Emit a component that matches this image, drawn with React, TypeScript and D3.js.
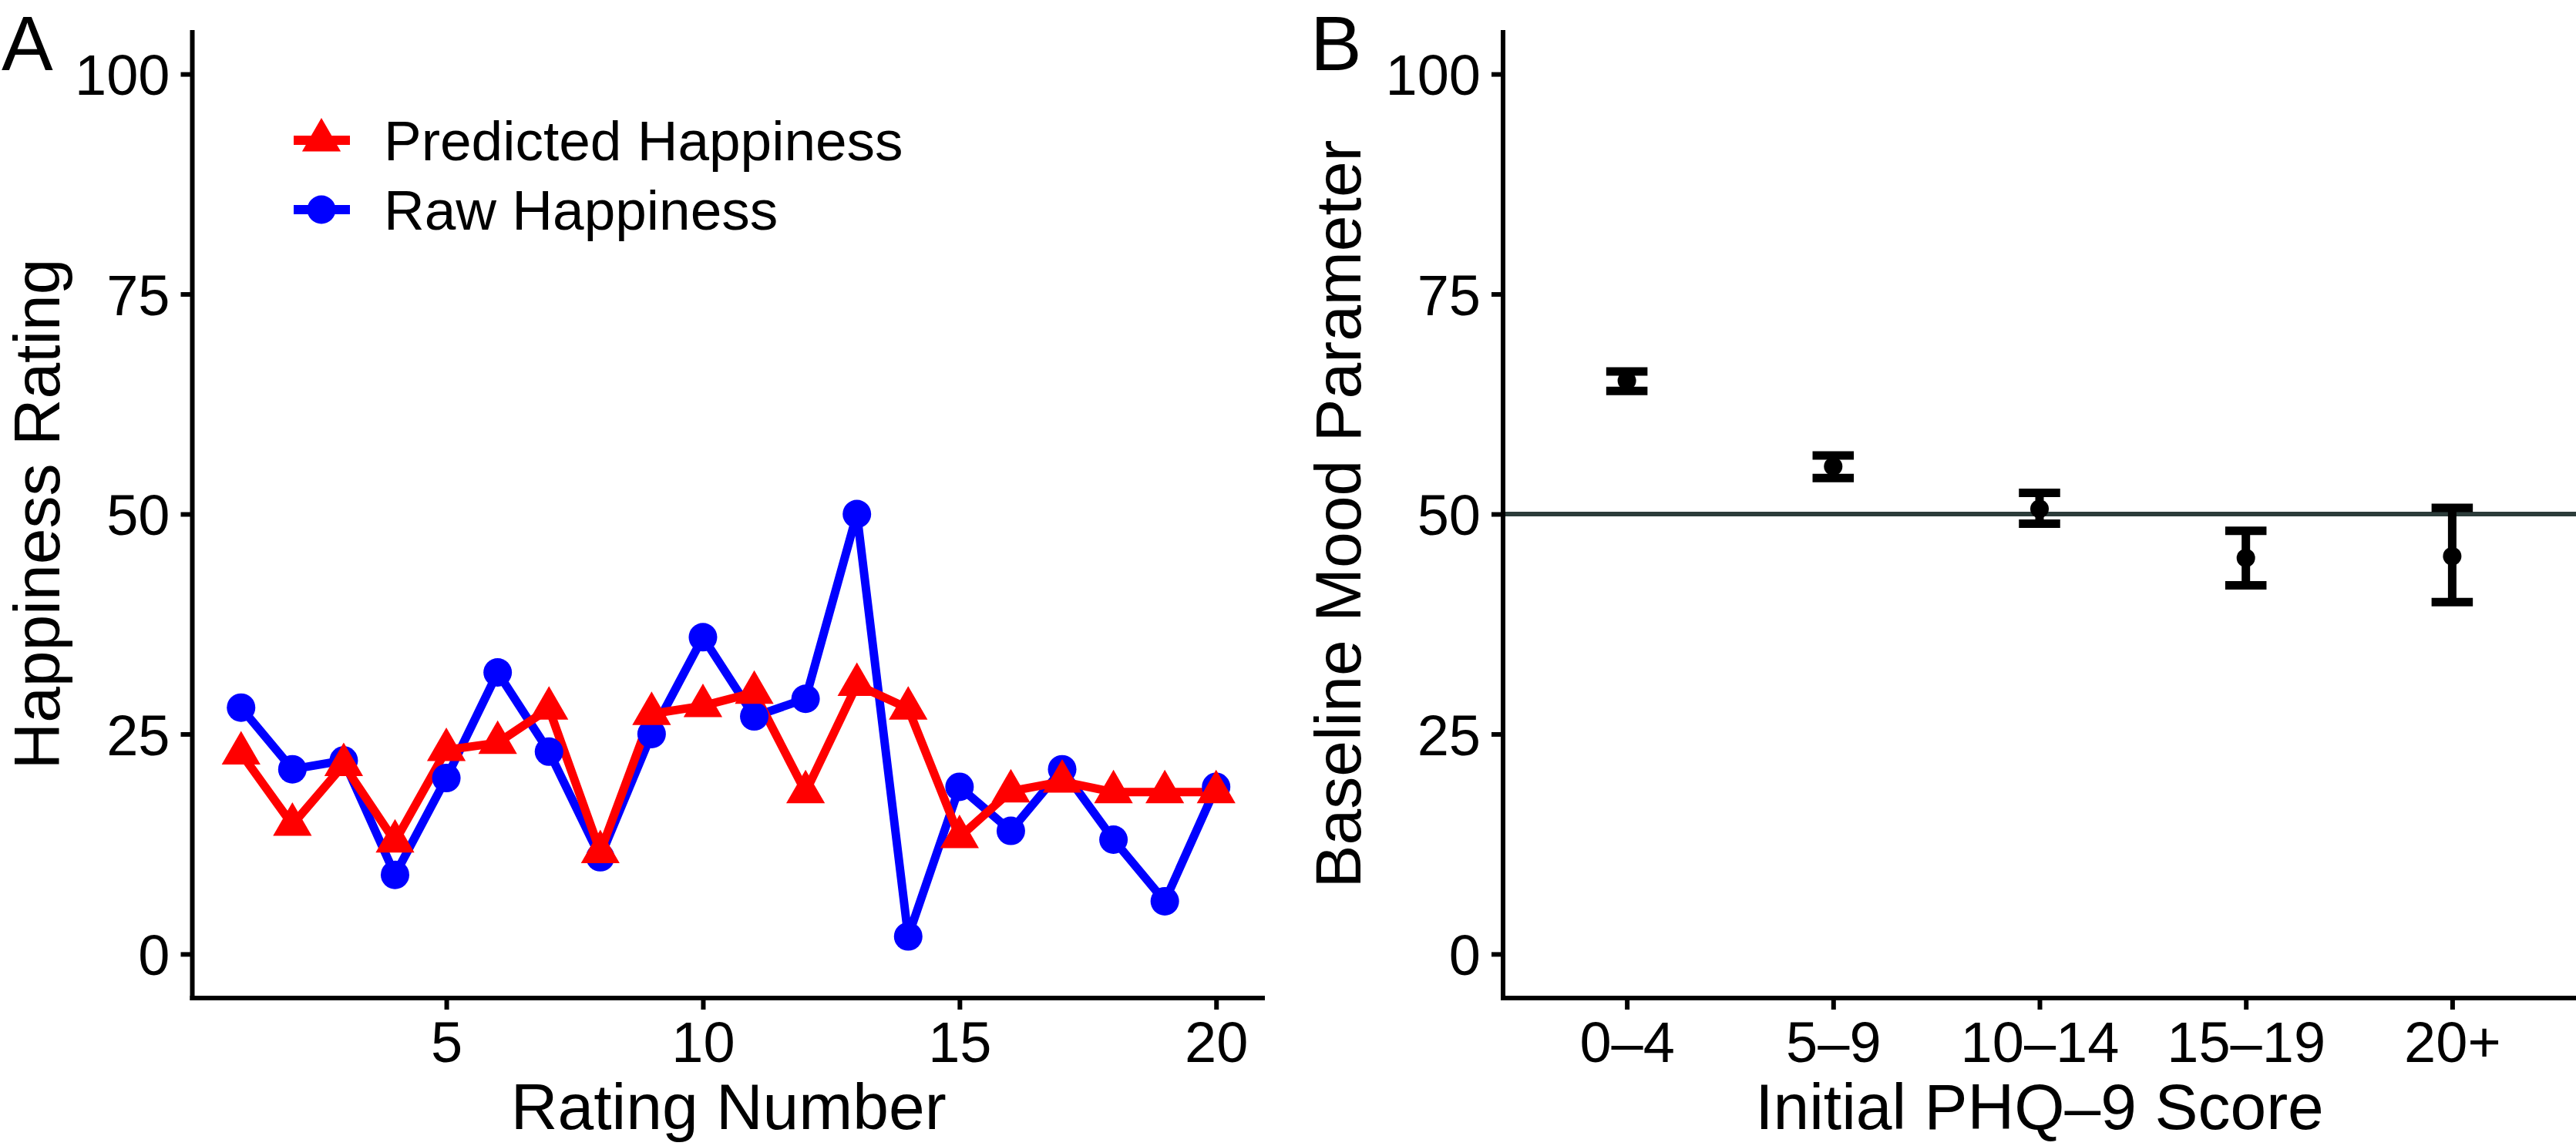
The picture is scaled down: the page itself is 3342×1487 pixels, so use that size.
import React, { useRef, useEffect } from "react";
import * as d3 from "d3";

// panel A data
const ratingNumber = [1, 2, 3, 4, 5, 6, 7, 8, 9, 10, 11, 12, 13, 14, 15, 16, 17, 18, 19, 20];
const predictedHappiness = [22.8, 14.7, 21.5, 12.8, 23.2, 24.0, 27.9, 11.6, 27.3, 28.2, 29.7, 18.4, 30.6, 27.9, 13.3, 18.5, 19.6, 18.4, 18.4, 18.4];
const rawHappiness = [28, 21, 22, 9, 20, 32, 23, 11, 25, 36, 27, 29, 50, 2, 19, 14, 21, 13, 6, 19];
const xTicksA = [5, 10, 15, 20];
const yTicks = [0, 25, 50, 75, 100];

// panel B data
const phqGroups = ["0–4", "5–9", "10–14", "15–19", "20+"];
const moodMean = [65.15, 55.4, 50.6, 45.0, 45.2];
const moodLower = [64.0, 54.1, 48.9, 41.9, 40.0];
const moodUpper = [66.2, 56.65, 52.4, 48.1, 50.7];

const W = 3342;
const H = 1487;
const FONT = "'Liberation Sans', Arial, Helvetica, sans-serif";
const RED = "#ff0000";
const BLUE = "#0000ff";

export default function App() {
  const svgRef = useRef<SVGSVGElement | null>(null);

  useEffect(() => {
    const svg = d3.select(svgRef.current);
    svg.selectAll("*").remove();
    svg.attr("width", W).attr("height", H);

    const top = 39;
    const bottom = 1295;
    const y = d3.scaleLinear().domain([-5, 105]).range([bottom, top]);

    // triangle like R's pch 17, centred on the centroid
    const triR = 29;
    const tri = (cx: number, cy: number) =>
      `M${cx},${cy - triR}L${cx + triR * 0.866},${cy + triR / 2}L${cx - triR * 0.866},${cy + triR / 2}Z`;

    const styleAxis = (g: any, fs: number) => {
      g.selectAll("path.domain").attr("stroke", "#000").attr("stroke-width", 6);
      g.selectAll(".tick line").attr("stroke", "#000").attr("stroke-width", 6);
      g.selectAll(".tick text")
        .attr("fill", "#000")
        .style("font-family", FONT)
        .style("font-size", fs + "px");
    };

    // ---------- panel A ----------
    const leftA = 249.5;
    const rightA = 1641;
    const xA = d3.scaleLinear().domain([0.05, 20.95]).range([leftA, rightA]);
    const gA = svg.append("g");

    const yAxA = gA
      .append("g")
      .attr("transform", `translate(${leftA},0)`)
      .call(d3.axisLeft(y).tickValues(yTicks).tickSize(15).tickSizeOuter(0).tickPadding(14));
    styleAxis(yAxA, 74);
    yAxA.selectAll(".tick text").attr("dy", "0.36em");
    yAxA.select("path.domain").attr("d", `M0,${bottom + 3}V${top}`);

    const xAxA = gA
      .append("g")
      .attr("transform", `translate(0,${bottom})`)
      .call(d3.axisBottom(xA).tickValues(xTicksA).tickSize(15).tickSizeOuter(0).tickPadding(15));
    styleAxis(xAxA, 74);
    xAxA.select("path.domain").attr("d", `M${leftA - 3},0H${rightA}`);

    const line = d3
      .line<number>()
      .x((_, i) => xA(ratingNumber[i]))
      .y((d) => y(d));

    gA.append("path")
      .attr("d", line(rawHappiness))
      .attr("fill", "none")
      .attr("stroke", BLUE)
      .attr("stroke-width", 11);
    gA.append("path")
      .attr("d", line(predictedHappiness))
      .attr("fill", "none")
      .attr("stroke", RED)
      .attr("stroke-width", 11);

    gA.selectAll("circle.raw")
      .data(rawHappiness)
      .enter()
      .append("circle")
      .attr("class", "raw")
      .attr("cx", (_, i) => xA(ratingNumber[i]))
      .attr("cy", (d) => y(d))
      .attr("r", 18.5)
      .attr("fill", BLUE);
    gA.selectAll("path.pred")
      .data(predictedHappiness)
      .enter()
      .append("path")
      .attr("class", "pred")
      .attr("d", (d, i) => tri(xA(ratingNumber[i]), y(d)))
      .attr("fill", RED);

    // legend
    const legend = [
      { label: "Predicted Happiness", color: RED, shape: "tri", cy: 182 },
      { label: "Raw Happiness", color: BLUE, shape: "circle", cy: 272 },
    ];
    legend.forEach((l) => {
      gA.append("line")
        .attr("x1", 381).attr("x2", 454)
        .attr("y1", l.cy).attr("y2", l.cy)
        .attr("stroke", l.color).attr("stroke-width", 12);
      if (l.shape === "tri") {
        gA.append("path").attr("d", tri(417, l.cy)).attr("fill", l.color);
      } else {
        gA.append("circle").attr("cx", 417).attr("cy", l.cy).attr("r", 18.5).attr("fill", l.color);
      }
      gA.append("text")
        .attr("x", 498)
        .attr("y", l.cy)
        .attr("dy", "0.36em")
        .style("font-family", FONT)
        .style("font-size", "73px")
        .text(l.label);
    });

    gA.append("text")
      .attr("x", (leftA + rightA) / 2)
      .attr("y", 1465)
      .attr("text-anchor", "middle")
      .style("font-family", FONT)
      .style("font-size", "84px")
      .text("Rating Number");
    gA.append("text")
      .attr("transform", `translate(77,${(top + bottom) / 2}) rotate(-90)`)
      .attr("text-anchor", "middle")
      .style("font-family", FONT)
      .style("font-size", "84px")
      .text("Happiness Rating");
    gA.append("text")
      .attr("x", 2)
      .attr("y", 91)
      .style("font-family", FONT)
      .style("font-size", "100px")
      .text("A");

    // ---------- panel B ----------
    const leftB = 1950;
    const rightB = 3342;
    const xB = d3.scalePoint().domain(phqGroups).range([leftB, rightB]).padding(0.6);
    const gB = svg.append("g");

    gB.append("line")
      .attr("x1", leftB).attr("x2", rightB)
      .attr("y1", y(50)).attr("y2", y(50))
      .attr("stroke", "#2c3c3a").attr("stroke-width", 6);

    const yAxB = gB
      .append("g")
      .attr("transform", `translate(${leftB},0)`)
      .call(d3.axisLeft(y).tickValues(yTicks).tickSize(15).tickSizeOuter(0).tickPadding(14));
    styleAxis(yAxB, 74);
    yAxB.selectAll(".tick text").attr("dy", "0.36em");
    yAxB.select("path.domain").attr("d", `M0,${bottom + 3}V${top}`);

    const xAxB = gB
      .append("g")
      .attr("transform", `translate(0,${bottom})`)
      .call(d3.axisBottom(xB).tickSize(15).tickSizeOuter(0).tickPadding(15));
    styleAxis(xAxB, 74);
    xAxB.select("path.domain").attr("d", `M${leftB - 3},0H${rightB}`);

    const capW = xB.step() * 0.2;
    phqGroups.forEach((g, i) => {
      const cx = xB(g) as number;
      const eb = gB.append("g").attr("stroke", "#000").attr("stroke-width", 11);
      eb.append("line").attr("x1", cx).attr("x2", cx).attr("y1", y(moodLower[i])).attr("y2", y(moodUpper[i]));
      eb.append("line").attr("x1", cx - capW / 2).attr("x2", cx + capW / 2).attr("y1", y(moodLower[i])).attr("y2", y(moodLower[i]));
      eb.append("line").attr("x1", cx - capW / 2).attr("x2", cx + capW / 2).attr("y1", y(moodUpper[i])).attr("y2", y(moodUpper[i]));
      gB.append("circle").attr("cx", cx).attr("cy", y(moodMean[i])).attr("r", 12).attr("fill", "#000");
    });

    gB.append("text")
      .attr("x", (leftB + rightB) / 2)
      .attr("y", 1465)
      .attr("text-anchor", "middle")
      .style("font-family", FONT)
      .style("font-size", "84px")
      .text("Initial PHQ–9 Score");
    gB.append("text")
      .attr("transform", `translate(1765,${(top + bottom) / 2}) rotate(-90)`)
      .attr("text-anchor", "middle")
      .style("font-family", FONT)
      .style("font-size", "84px")
      .text("Baseline Mood Parameter");
    gB.append("text")
      .attr("x", 1700)
      .attr("y", 91)
      .style("font-family", FONT)
      .style("font-size", "100px")
      .text("B");
  }, []);

  return (
    <svg
      ref={svgRef}
      width={W}
      height={H}
      style={{ position: "absolute", left: 0, top: 0, display: "block", background: "#fff" }}
    ></svg>
  );
}
